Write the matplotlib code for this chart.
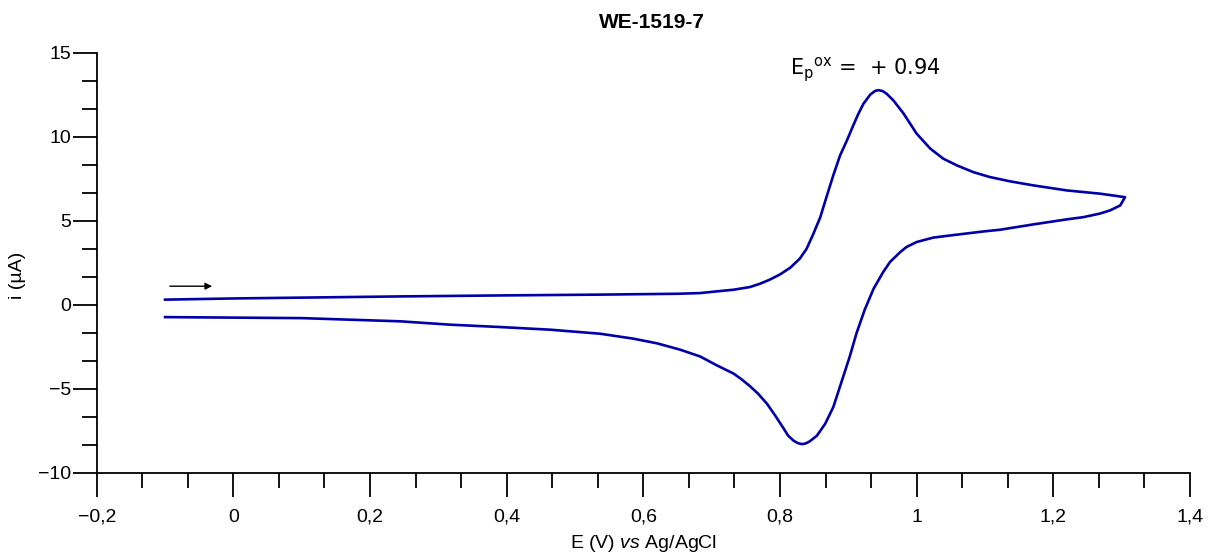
import numpy as np
import matplotlib
matplotlib.use("Agg")
import matplotlib.pyplot as plt
from matplotlib.ticker import MultipleLocator, FuncFormatter

plt.rcParams['font.family'] = ['Liberation Sans', 'DejaVu Sans']
plt.rcParams['mathtext.fontset'] = 'custom'
plt.rcParams['mathtext.rm'] = 'Liberation Sans'
plt.rcParams['mathtext.it'] = 'Liberation Sans:italic'

# forward scan (upper branch), V and uA
E_fwd = [-0.10, 0.00, 0.10, 0.24, 0.39, 0.54, 0.65, 0.683, 0.707, 0.732, 0.756, 0.771,
         0.785, 0.800, 0.815, 0.829, 0.839, 0.849, 0.859, 0.868, 0.878, 0.888, 0.898,
         0.907, 0.914, 0.922, 0.932, 0.939, 0.944, 0.950, 0.956, 0.966, 0.981, 1.000,
         1.020, 1.039, 1.059, 1.083, 1.107, 1.137, 1.171, 1.220, 1.268, 1.305]
i_fwd = [0.30, 0.37, 0.42, 0.49, 0.55, 0.60, 0.65, 0.69, 0.79, 0.89, 1.05, 1.25,
         1.49, 1.80, 2.20, 2.74, 3.33, 4.23, 5.21, 6.40, 7.70, 8.89, 9.78,
         10.65, 11.3, 11.95, 12.5, 12.72, 12.77, 12.72, 12.56, 12.16, 11.37, 10.18,
         9.29, 8.69, 8.29, 7.89, 7.60, 7.34, 7.10, 6.80, 6.61, 6.40]

# reverse scan (lower branch)
E_rev = [1.305, 1.298, 1.283, 1.268, 1.244, 1.220, 1.171, 1.122, 1.098, 1.049, 1.024,
         1.000, 0.985, 0.976, 0.961, 0.951, 0.937, 0.924, 0.912, 0.902, 0.890, 0.878,
         0.866, 0.854, 0.843, 0.837, 0.832, 0.826, 0.820, 0.812, 0.805, 0.793, 0.781,
         0.768, 0.756, 0.744, 0.732, 0.707, 0.683, 0.654, 0.620, 0.585, 0.537, 0.464,
         0.390, 0.317, 0.244, 0.10, 0.00, -0.10]
i_rev = [6.40, 5.91, 5.61, 5.42, 5.21, 5.08, 4.78, 4.46, 4.36, 4.12, 3.99,
         3.73, 3.43, 3.13, 2.54, 1.94, 0.95, -0.30, -1.70, -3.10, -4.60, -6.10,
         -7.10, -7.80, -8.15, -8.27, -8.30, -8.24, -8.10, -7.80, -7.35, -6.60, -5.90,
         -5.30, -4.85, -4.45, -4.10, -3.60, -3.08, -2.68, -2.30, -2.02, -1.73, -1.49,
         -1.33, -1.19, -0.99, -0.80, -0.77, -0.74]

title = 'WE-1519-7'
peak_label = r'$\mathregular{{E_p}^{ox}}$ =  + 0.94'
peak_pos = (0.925, 14.0)
arrow_from = (-0.097, 1.1)
arrow_to = (-0.027, 1.1)


def comma_fmt(v, pos):
    s = f'{round(v, 3):g}'
    return s.replace('.', ',').replace('-', '\u2212')


fig = plt.figure(figsize=(12.12, 5.57), dpi=100)
ax = fig.add_axes([0.0798, 0.1514, 0.902, 0.754])

E = E_fwd + E_rev
cur = i_fwd + i_rev
ax.plot(E, cur, color='#0000a8', lw=1.9, solid_joinstyle='round')

ax.annotate('', xy=arrow_to, xytext=arrow_from,
            arrowprops=dict(arrowstyle='-|>', color='black', lw=1.0, mutation_scale=10))
ax.text(peak_pos[0], peak_pos[1], peak_label, ha='center', va='center',
        fontsize=15, family='DejaVu Sans')

ax.set_xlim(-0.2, 1.4)
ax.set_ylim(-10, 15)
for s in ['top', 'right']:
    ax.spines[s].set_visible(False)
for s in ['left', 'bottom']:
    ax.spines[s].set_linewidth(1.3)

ax.xaxis.set_major_locator(MultipleLocator(0.2))
ax.xaxis.set_minor_locator(MultipleLocator(0.2 / 3))
ax.yaxis.set_major_locator(MultipleLocator(5))
ax.yaxis.set_minor_locator(MultipleLocator(5 / 3))
ax.xaxis.set_major_formatter(FuncFormatter(comma_fmt))
ax.yaxis.set_major_formatter(FuncFormatter(comma_fmt))

ax.tick_params(which='major', direction='out', length=17, width=1.3, labelsize=14)
ax.tick_params(which='minor', direction='out', length=10.5, width=1.3)
ax.tick_params(axis='x', which='major', pad=9)
ax.tick_params(axis='y', which='major', pad=1.5)

ax.set_xlabel(r'E (V) $\mathit{vs}$ Ag/AgCl', fontsize=14, labelpad=5)
fig.text(18 / 1212, 1 - 275 / 557, 'i (\u00b5A)', rotation=90, ha='center', va='center',
         fontsize=14)
fig.text(652 / 1212, 1 - 22 / 557, title, ha='center', va='center',
         fontsize=15, fontweight='bold')

fig.savefig('out.png', dpi=100)
